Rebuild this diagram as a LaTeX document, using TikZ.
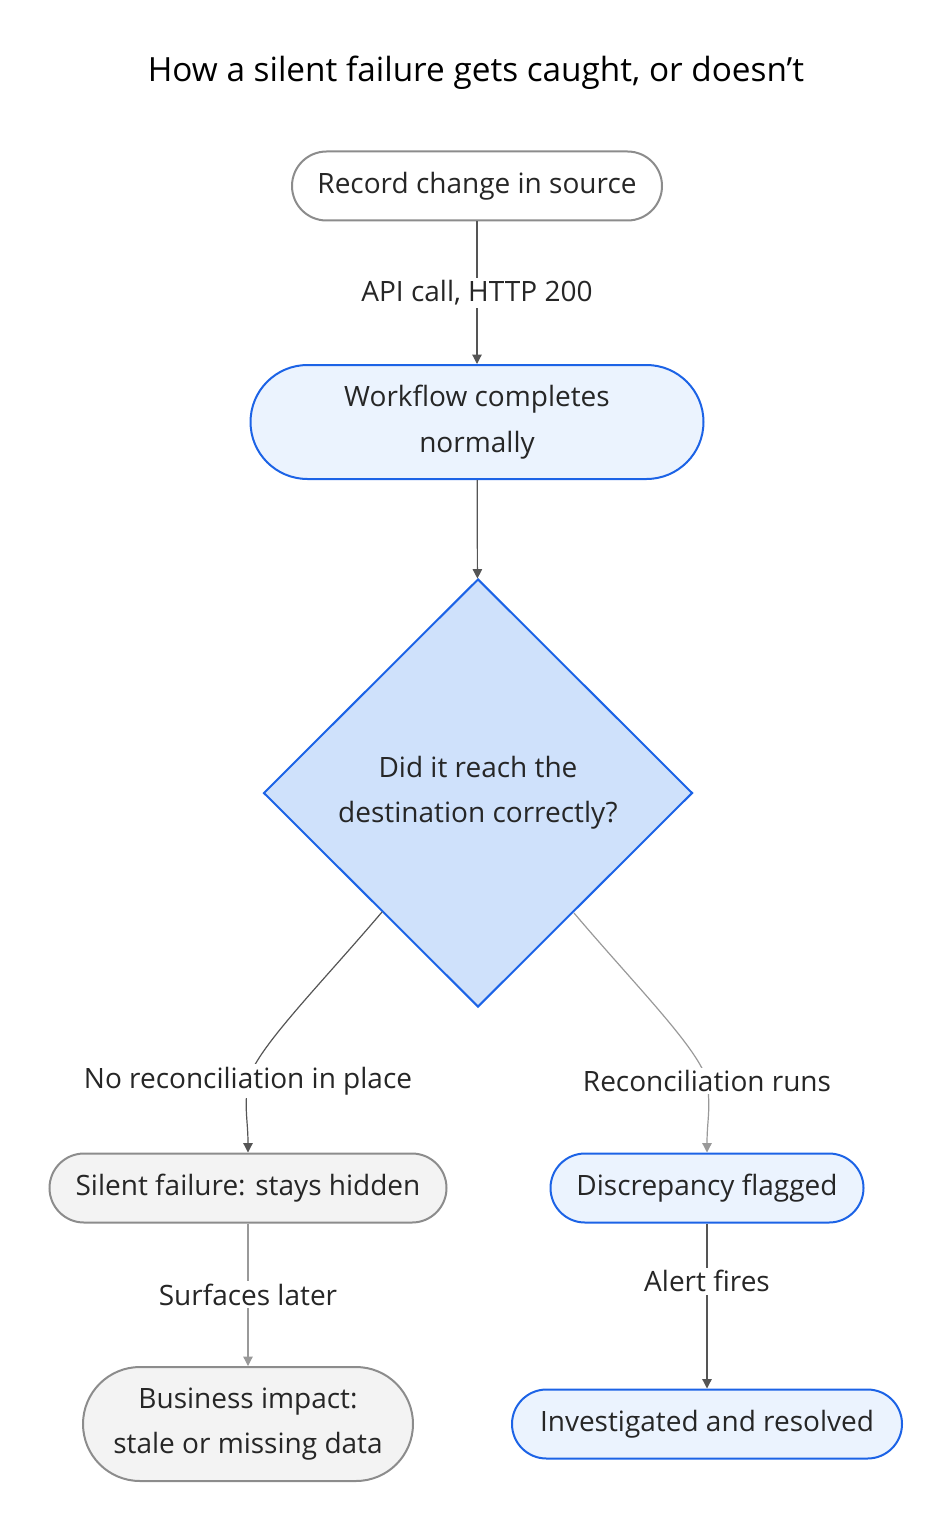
\documentclass[tikz,border=0pt]{standalone}
\usepackage{fontspec}
\setmainfont{Open Sans}
\usetikzlibrary{shapes.geometric,arrows.meta}
\definecolor{bl}{HTML}{1C63E6}
\definecolor{blf}{HTML}{EBF3FE}
\definecolor{dia}{HTML}{CFE1FB}
\definecolor{gr}{HTML}{8C8C8C}
\definecolor{grf}{HTML}{F3F3F3}
\definecolor{dk}{HTML}{555555}
\definecolor{lt}{HTML}{999999}
\begin{document}
\begin{tikzpicture}[x=0.75pt,y=-0.75pt,
  txt/.style={font=\fontsize{21}{34}\selectfont,text=black!85,align=center},
  pill/.style={txt,draw,line width=1.5pt,rounded corners=34.5*0.75pt,inner sep=0pt},
  gpill/.style={pill,draw=gr,fill=grf},
  bpill/.style={pill,draw=bl,fill=blf},
  lab/.style={txt,fill=white,inner sep=2pt},
  dark/.style={draw=dk,line width=0.9pt,-{Triangle[length=7pt,width=7pt]}},
  light/.style={draw=lt,line width=0.9pt,-{Triangle[length=7pt,width=7pt]}}]
\useasboundingbox (0,0) rectangle (950,1530);
\node[font=\fontsize{25}{30}\selectfont] (title) at (476,73) {How a silent failure gets caught, or doesn\symbol{39}t};
\node[gpill,fill=white,minimum width=370*0.75pt,minimum height=69*0.75pt] (rec) at (477,186) {Record change in source};
\node[bpill,rounded corners=57*0.75pt,minimum width=453*0.75pt,minimum height=114*0.75pt] (wf) at (477,422) {Workflow completes\\normally};
\node[txt,draw=bl,fill=dia,line width=1.5pt,diamond,minimum width=429*0.75pt,minimum height=428*0.75pt,inner sep=0pt] (d) at (478,793) {Did it reach the\\destination correctly?};
\node[gpill,minimum width=397*0.75pt,minimum height=69*0.75pt] (sf) at (248,1188) {Silent failure: stays hidden};
\node[bpill,minimum width=313*0.75pt,minimum height=69*0.75pt] (df) at (707,1188) {Discrepancy flagged};
\node[gpill,rounded corners=57*0.75pt,minimum width=330*0.75pt,minimum height=114*0.75pt] (bi) at (248,1424) {Business impact:\\stale or missing data};
\node[bpill,minimum width=390*0.75pt,minimum height=69*0.75pt] (ir) at (707,1424) {Investigated and resolved};
\draw[dark] (rec) -- node[lab]{API call, HTTP 200} (wf);
\draw[dark] (wf) -- (d);
\coordinate (c1) at (382,912);
\coordinate (c2) at (574,913);
\coordinate (l1) at (248,1081);
\coordinate (l2) at (707,1081);
\draw[dark] (c1) .. controls (320,985) and (255,1050) .. (l1) .. controls (244,1110) and (248,1120) .. (sf.north);
\draw[light] (c2) .. controls (635,985) and (700,1050) .. (l2) .. controls (711,1110) and (707,1120) .. (df.north);
\node[lab] at (l1) {No reconciliation in place};
\node[lab] at (l2) {Reconciliation runs};
\draw[light] (sf) -- node[lab]{Surfaces later} (bi);
\draw[dark] (df) -- node[lab,pos=0.35]{Alert fires} (ir);
\end{tikzpicture}
\end{document}
